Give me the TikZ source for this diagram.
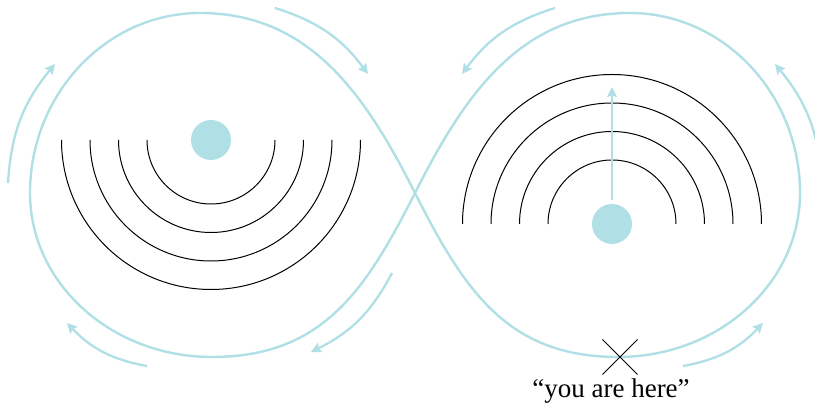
\documentclass[tikz,border=0pt]{standalone}
\usepackage{fontspec}
\setmainfont{Liberation Serif}
\usetikzlibrary{arrows.meta,shapes.misc}
\definecolor{pblue}{HTML}{B0DFE5}
\tikzset{
  loopline/.style={draw=pblue, line width=2.4pt, line join=round},
  flowarrow/.style={draw=pblue, line width=2.3pt, -{Stealth[length=10pt,width=10pt,inset=1.5pt]}},
  ring/.style={draw=black, line width=1pt},
  bluedot/.style={circle, fill=pblue, minimum size=40pt, inner sep=0pt},
  xmark/.style={cross out, draw=black, line width=1pt, minimum size=34pt, inner sep=0pt},
  herelabel/.style={font=\fontsize{27}{30}\selectfont, anchor=base, inner sep=0pt}
}
\begin{document}
\begin{tikzpicture}[x=1pt,y=1pt]
\clip (0,0) rectangle (815,406);
% figure-eight
\coordinate (cross) at (415,213);
\draw[loopline] (cross)
  .. controls (365.5,311) and (310,393) .. (200,393)
  .. controls (106.5,393) and (30,312) .. (30,213)
  .. controls (30,122.5) and (111.5,49) .. (212,49)
  .. controls (322,49) and (365.5,115) .. (cross)
  .. controls (464.5,115) and (508,49) .. (618,49)
  .. controls (718.5,49) and (800,122.5) .. (800,213)
  .. controls (800,312) and (723.5,393) .. (630,393)
  .. controls (520,393) and (464.5,311) .. (cross);
% left centre
\node[bluedot] (ldot) at (211,266) {};
\foreach \r in {64,92.5,121,149.5}
  \draw[ring] (211,266) ++(180:\r) arc[start angle=180, end angle=360, radius=\r];
% right centre
\node[bluedot] (rdot) at (612,182) {};
\foreach \r in {64,92.5,121,149.5}
  \draw[ring] (612,182) ++(0:\r) arc[start angle=0, end angle=180, radius=\r];
\coordinate (up0) at (612,206);
\coordinate (up1) at (612,319);
\draw[flowarrow] (up0) -- (up1);
% flow arrows
\coordinate (a1s) at (8,223);   \coordinate (a1e) at (55,342);
\coordinate (a2s) at (275,398); \coordinate (a2e) at (368,332);
\coordinate (a3s) at (392,133); \coordinate (a3e) at (311,54);
\coordinate (a4s) at (147,40);  \coordinate (a4e) at (67,83);
\coordinate (a5s) at (555,398); \coordinate (a5e) at (462,332);
\coordinate (a6s) at (822,223); \coordinate (a6e) at (775,342);
\coordinate (a7s) at (683,40);  \coordinate (a7e) at (763,83);
\draw[flowarrow] (a1s) to[bend left=18] (a1e);
\draw[flowarrow] (a2s) to[bend left=18] (a2e);
\draw[flowarrow] (a3s) to[bend left=18] (a3e);
\draw[flowarrow] (a4s) to[bend left=18] (a4e);
\draw[flowarrow] (a5s) to[bend right=18] (a5e);
\draw[flowarrow] (a6s) to[bend right=18] (a6e);
\draw[flowarrow] (a7s) to[bend right=18] (a7e);
% you are here
\node[xmark] (here) at (620,49) {};
\node[herelabel] (herelbl) at (611,8) {“you are here”};
\end{tikzpicture}
\end{document}
